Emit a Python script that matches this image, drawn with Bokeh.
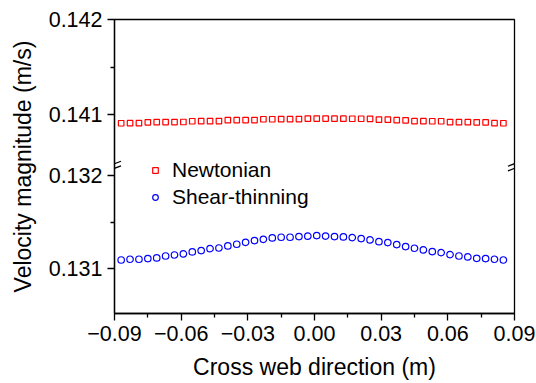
from bokeh.plotting import figure
from bokeh.models import (Range1d, FixedTicker, CustomJSTickFormatter, Legend,
                          LegendItem, Arrow)
from bokeh.embed import file_html
from bokeh.resources import INLINE

# ---------------- data ----------------
cross_web = [-0.087, -0.083, -0.079, -0.075, -0.071, -0.067, -0.063, -0.059,
             -0.055, -0.051, -0.047, -0.043, -0.039, -0.035, -0.031, -0.027,
             -0.023, -0.019, -0.015, -0.011, -0.007, -0.003, 0.001, 0.005,
             0.009, 0.013, 0.017, 0.021, 0.025, 0.029, 0.033, 0.037, 0.041,
             0.045, 0.049, 0.053, 0.057, 0.061, 0.065, 0.069, 0.073, 0.077,
             0.081, 0.085]
newtonian = [0.140913, 0.140914, 0.140914, 0.140923, 0.140924, 0.140925,
             0.140925, 0.140926, 0.140934, 0.140935, 0.140935, 0.140936,
             0.140945, 0.140945, 0.140946, 0.140946, 0.140955, 0.140955,
             0.140956, 0.140956, 0.140957, 0.140962,
             0.140962, 0.140962, 0.140961, 0.140961, 0.140960, 0.140960,
             0.140959, 0.140952, 0.140951, 0.140945, 0.140944, 0.140935,
             0.140935, 0.140934, 0.140934, 0.140925, 0.140924, 0.140924,
             0.140923, 0.140923, 0.140914, 0.140913]
shear_thinning = [0.131093, 0.131101, 0.131101, 0.131108, 0.131115, 0.131136,
                  0.131147, 0.131158, 0.131180, 0.131194, 0.131215, 0.131222,
                  0.131244, 0.131262, 0.131283, 0.131301, 0.131315, 0.131330,
                  0.131337, 0.131337, 0.131344, 0.131348,
                  0.131355, 0.131350, 0.131344, 0.131340, 0.131333, 0.131323,
                  0.131308, 0.131290, 0.131280, 0.131258, 0.131237, 0.131219,
                  0.131201, 0.131183, 0.131172, 0.131151, 0.131136, 0.131126,
                  0.131111, 0.131108, 0.131101, 0.131093]
x_ticks = [-0.09, -0.06, -0.03, 0.0, 0.03, 0.06, 0.09]
x_minor_ticks = [-0.075, -0.045, -0.015, 0.015, 0.045, 0.075]
upper_ticks = [0.141, 0.142]
upper_minor_ticks = [0.1415]
lower_ticks = [0.131, 0.132]
lower_minor_ticks = [0.1315]
series_names = ["Newtonian", "Shear-thinning"]

# ---------------- layout / style ----------------
FONT = "Liberation Sans"
X0, X1 = -0.09, 0.09
LO0, LO1 = 0.13052, 0.13367      # lower (default) y range
UP0, UP1 = 0.13892, 0.14200      # upper (extra) y range
BRK = 0.1321                     # break position, in lower-range units
FW, FH = 400, 294

p = figure(width=536, height=383, frame_width=FW, frame_height=FH,
           x_range=Range1d(X0, X1), y_range=Range1d(LO0, LO1),
           output_backend="svg", toolbar_location=None,
           min_border_left=114, min_border_right=22,
           min_border_top=19, min_border_bottom=70)
p.extra_y_ranges = {"upper": Range1d(UP0, UP1)}
p.xgrid.visible = False
p.ygrid.visible = False
p.outline_line_color = "black"
p.outline_line_width = 1.3
p.background_fill_color = "white"
p.border_fill_color = "white"


def to_lower(v):
    return LO0 + (v - UP0) * (LO1 - LO0) / (UP1 - UP0)


xa = p.xaxis[0]
xa.ticker = FixedTicker(ticks=x_ticks, minor_ticks=x_minor_ticks)
xa.formatter = CustomJSTickFormatter(
    code="return (tick < -1e-9 ? '\u2212' : '') + Math.abs(tick).toFixed(2);")
xa.axis_label = "Cross web direction (m)"

ya = p.yaxis[0]
ya.ticker = FixedTicker(ticks=lower_ticks + [to_lower(t) for t in upper_ticks],
                        minor_ticks=lower_minor_ticks + [to_lower(t) for t in upper_minor_ticks])
ya.formatter = CustomJSTickFormatter(
    args=dict(lo0=LO0, lo1=LO1, up0=UP0, up1=UP1, brk=BRK),
    code="""
let v = tick;
if (tick > brk) { v = up0 + (tick - lo0) * (up1 - up0) / (lo1 - lo0); }
return v.toFixed(3);
""")
ya.axis_label = "Velocity magnitude (m/s)"

for ax in (xa, ya):
    ax.axis_line_color = "black"
    ax.axis_line_width = 1.3
    ax.major_tick_line_color = "black"
    ax.major_tick_line_width = 1.3
    ax.minor_tick_line_color = "black"
    ax.minor_tick_line_width = 1.3
    ax.major_tick_in = 0
    ax.major_tick_out = 7
    ax.minor_tick_in = 0
    ax.minor_tick_out = 4
    ax.major_label_text_font = FONT
    ax.major_label_text_font_size = "21.5px"
    ax.major_label_text_color = "black"
    ax.axis_label_text_font = FONT
    ax.axis_label_text_font_size = "23px"
    ax.axis_label_text_font_style = "normal"
    ax.axis_label_text_color = "black"
xa.major_label_standoff = 5
xa.axis_label_standoff = 10
ya.major_label_standoff = 5
ya.axis_label_standoff = 10

r_new = p.scatter(cross_web, newtonian, marker="square", size=5.5,
                  fill_color=None, line_color="red", line_width=1.2,
                  y_range_name="upper")
r_shear = p.scatter(cross_web, shear_thinning, marker="circle", size=6.5,
                    fill_color=None, line_color="blue", line_width=1.2)

legend = Legend(items=[LegendItem(label=series_names[0], renderers=[r_new]),
                       LegendItem(label=series_names[1], renderers=[r_shear])],
                location=(34, 104), orientation="vertical")
legend.background_fill_alpha = 0
legend.border_line_color = None
legend.padding = 0
legend.margin = 0
legend.spacing = 3
legend.glyph_width = 14
legend.glyph_height = 22
legend.label_height = 22
legend.label_standoff = 10
legend.label_text_font = FONT
legend.label_text_font_size = "21px"
legend.label_text_color = "black"
p.add_layout(legend, "center")

# axis-break marks on both sides of the frame (added to a side panel so that
# they are not clipped to the frame)
dxp = (X1 - X0) / FW
dyp = (LO1 - LO0) / FH
for xe in (X0, X1):
    for off in (-2.3, 2.3):
        yc = BRK - off * dyp
        p.add_layout(Arrow(end=None, x_start=xe - 6.5 * dxp, y_start=yc - 2.5 * dyp,
                           x_end=xe + 6.5 * dxp, y_end=yc + 2.5 * dyp,
                           line_color="black", line_width=1.3), "left")

open("out.html", "w").write(file_html(p, INLINE))
